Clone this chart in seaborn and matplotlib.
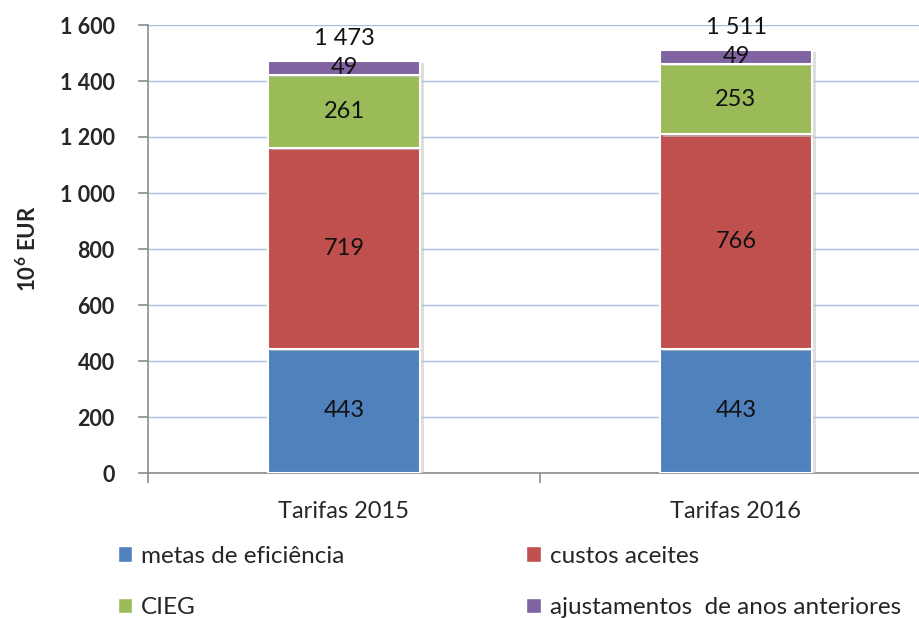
import matplotlib
matplotlib.use("Agg")
import matplotlib.pyplot as plt
import matplotlib.patheffects as pe
from matplotlib.patches import Patch
from matplotlib.ticker import FuncFormatter, FixedLocator
import seaborn as sns
import pandas as pd
import numpy as np

categories = ["Tarifas 2015", "Tarifas 2016"]
series = ["metas de eficiência", "custos aceites", "CIEG", "ajustamentos  de anos anteriores"]
metas = [443, 443]
custos = [719, 766]
cieg = [261, 253]
ajustes = [49, 49]
totals = [1473, 1511]
colors = ["#4f81bd", "#c0504d", "#9bbb59", "#8064a2"]

sns.set_theme(style="white")
plt.rcParams["font.family"] = ["Lato", "DejaVu Sans"]
plt.rcParams["mathtext.fontset"] = "custom"
plt.rcParams["mathtext.rm"] = "Lato"
plt.rcParams["mathtext.bf"] = "Lato:bold"

fig = plt.figure(figsize=(9.19, 6.18), dpi=100)
ax = fig.add_axes([148 / 919, (618 - 473) / 618, 784 / 919, 448 / 618])

df = pd.DataFrame({"cat": categories, "metas": metas, "custos": custos,
                   "cieg": cieg, "ajustes": ajustes})
cols = ["metas", "custos", "cieg", "ajustes"]
bottom = np.zeros(len(categories))
shadow = [pe.SimplePatchShadow(offset=(2.5, -1.5), shadow_rgbFace="#c8c8c8", alpha=0.6),
          pe.Normal()]
for col, color in zip(cols, colors):
    vals = df[col].to_numpy()
    n_before = len(ax.patches)
    sns.barplot(data=df, x="cat", y=col, bottom=bottom, color=color,
                width=0.39, saturation=1, edgecolor="white", linewidth=1.5,
                ax=ax, zorder=3)
    for p in ax.patches[n_before:]:
        p.set_path_effects(shadow)
    for i, (v, b) in enumerate(zip(vals, bottom)):
        ax.text(i, b + v / 2, f"{v}", ha="center", va="center",
                fontsize=17, color="#111111", zorder=5)
    bottom = bottom + vals

for i, t in enumerate(totals):
    s = f"{t:,}".replace(",", " ")
    ax.text(i, bottom[i] + 80, s, ha="center", va="center",
            fontsize=17, color="#111111", zorder=5)

ax.set_xlim(-0.5, 1.5)
ax.set_ylim(0, 1600)
ax.set_yticks(np.arange(0, 1601, 200))
ax.yaxis.set_major_formatter(FuncFormatter(lambda v, p: f"{int(v):,}".replace(",", " ")))
ax.grid(axis="y", color="#a9bde3", linewidth=1, zorder=0)
ax.set_axisbelow(True)

for sp in ["top", "right"]:
    ax.spines[sp].set_visible(False)
for sp in ["left", "bottom"]:
    ax.spines[sp].set_color("#8c8c8c")
    ax.spines[sp].set_linewidth(1.2)

ax.tick_params(axis="y", which="major", length=7, width=1.2, color="#8c8c8c",
               direction="out", pad=17, labelsize=15.5, left=True)
for lbl in ax.get_yticklabels():
    lbl.set_fontweight("bold")
ax.tick_params(axis="x", which="major", length=0, pad=20, labelsize=17)
ax.xaxis.set_minor_locator(FixedLocator([-0.5, 0.5, 1.5]))
ax.tick_params(axis="x", which="minor", length=7, width=1.2, color="#8c8c8c",
               direction="out", bottom=True)

ax.set_xlabel("")
ax.set_ylabel(r"10$^{\mathbf{6}}$ EUR", fontsize=16, fontweight="bold", labelpad=14)

handles = [Patch(facecolor=c, edgecolor="white") for c in colors]
order = [0, 2, 1, 3]
fig.legend([handles[i] for i in order], [series[i] for i in order],
           loc="upper left", bbox_to_anchor=(108 / 919, 1 - 536 / 618),
           ncol=2, frameon=False, fontsize=17.5, handlelength=0.6,
           handleheight=0.6, handletextpad=0.35, columnspacing=7.5,
           labelspacing=1.25, borderaxespad=0)

fig.savefig("out.png", dpi=100)
